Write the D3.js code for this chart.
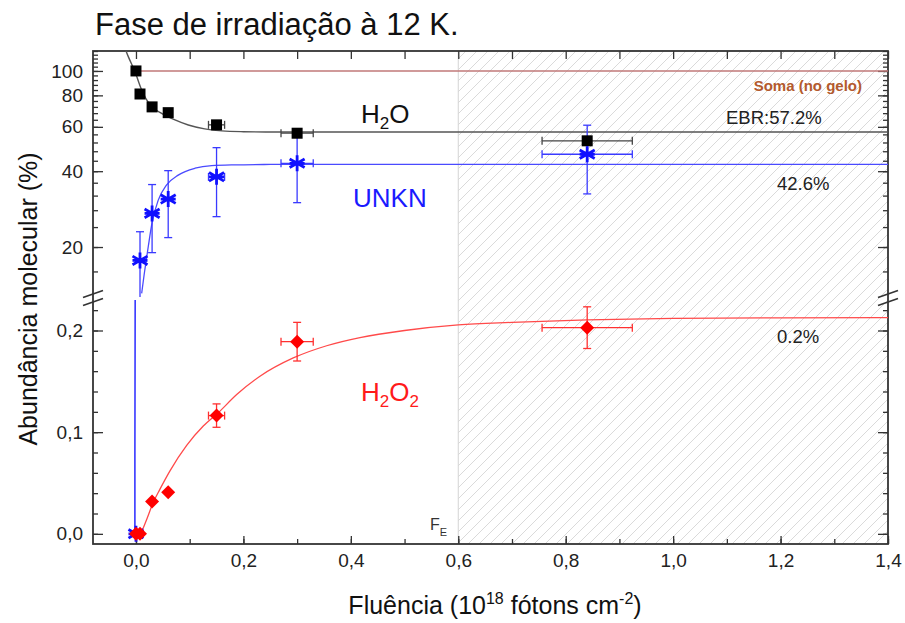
<!DOCTYPE html>
<html>
<head>
<meta charset="utf-8">
<script src="https://cdn.jsdelivr.net/npm/d3@7"></script>
<style>
body { margin: 0; background: #fff; }
svg text { font-family: "Liberation Sans", Arial, sans-serif; }
</style>
</head>
<body>
<svg id="chart" width="905" height="623"></svg>
<script>
// measured points (fluence in 1e18 photons/cm2, abundances in %)
var fluence = [0, 0.0075, 0.03, 0.06, 0.15, 0.30, 0.84]
var fluenceErr = [0, 0, 0, 0, 0.015, 0.03, 0.084]
var h2oVals = [100, 81, 72, 68.3, 61.1, 56.6, 52.8]
var unknVals = [0, 17.7, 27.2, 31.0, 38.0, 43.0, 46.7]
var unknErr = [0, 5.3, 8.2, 9.2, 11.6, 13.0, 14.2]
var h2o2Vals = [0, 0, 0.0318, 0.041, 0.1163, 0.189, 0.2028]
var h2o2Err = [0, 0, 0, 0, 0.0115, 0.019, 0.0205]

// fit curves
var h2oFitX = [-0.0186, -0.0143, -0.002, 0.0106, 0.026, 0.0478, 0.0726, 0.0974, 0.128, 0.16, 0.2, 0.25, 0.3, 1.4]
var h2oFitY = [120, 114, 99.4, 84, 73.3, 67.9, 63.9, 61.0, 58.9, 57.8, 57.4, 57.25, 57.2, 57.2]
var unknFitX = [0.0106, 0.0155, 0.0229, 0.0303, 0.0415, 0.0571, 0.0787, 0.11, 0.141, 0.184, 0.25, 0.3, 1.4]
var unknFitY = [13.1, 15.7, 20.1, 25.2, 30.7, 35.3, 38.6, 41.1, 42.1, 42.4, 42.55, 42.6, 42.6]
var unknLowX = [-0.002, -0.002, -0.0015]
var unknLowY = [0, 0.08, 0.23]
var h2o2FitX = [0.0093, 0.0199, 0.0322, 0.0447, 0.0633, 0.0944, 0.1253, 0.153, 0.1875, 0.2308, 0.2928, 0.355, 0.417, 0.5, 0.6, 0.7, 0.84, 1.0, 1.2, 1.4]
var h2o2FitY = [0, 0.014, 0.031, 0.044, 0.062, 0.087, 0.106, 0.119, 0.137, 0.155, 0.173, 0.185, 0.193, 0.200, 0.2055, 0.208, 0.2105, 0.212, 0.2125, 0.2127]
var somaX = [0, 1.4]
var somaY = [100, 100]

// ticks
var xTicks = [0, 0.2, 0.4, 0.6, 0.8, 1.0, 1.2, 1.4]
var topTicks = [20, 40, 60, 80, 100]
var botTicks = [0, 0.1, 0.2]
var fluenceEnd = 0.6

// note: "top" is taken by window.top, so the frame uses its own names
var frameL = 93, frameR = 888, frameT = 51, frameB = 544
var topPanelBottom = 295, botPanelTop = 300

var svg = d3.select('#chart')
var x = d3.scaleLinear().domain([-0.08, 1.4]).range([frameL, frameR])
var yTop = d3.scaleLog().domain([12.9, 120]).range([topPanelBottom, frameT])
var yBot = d3.scaleLinear().domain([-0.01, 0.23]).range([frameB, botPanelTop])

function yPos(v) {
    return v > 1 ? yTop(v) : yBot(v)
}
function commaFmt(d) {
    return d3.format('.1f')(d).replace('.', ',')
}

function drawBackground() {
    let defs = svg.append('defs')
    let pat = defs.append('pattern')
        .attr('id', 'hatch')
        .attr('patternUnits', 'userSpaceOnUse')
        .attr('width', 11).attr('height', 11)
    pat.append('path')
        .attr('d', 'M-1,1 l2,-2 M0,11 l11,-11 M10,12 l2,-2')
        .attr('stroke', '#dadada').attr('stroke-width', 1)
    defs.append('clipPath').attr('id', 'clip-top')
        .append('rect').attr('x', frameL).attr('y', frameT)
        .attr('width', frameR - frameL).attr('height', topPanelBottom + 2 - frameT)
    defs.append('clipPath').attr('id', 'clip-bot')
        .append('rect').attr('x', frameL).attr('y', botPanelTop - 3)
        .attr('width', frameR - frameL).attr('height', frameB - botPanelTop + 3)

    svg.append('rect')
        .attr('x', x(fluenceEnd)).attr('y', frameT)
        .attr('width', x(1.4) - x(fluenceEnd)).attr('height', frameB - frameT)
        .attr('fill', 'url(#hatch)')
    svg.append('line')
        .attr('x1', x(fluenceEnd)).attr('x2', x(fluenceEnd))
        .attr('y1', frameT).attr('y2', frameB)
        .attr('stroke', '#d4d4d4').attr('stroke-width', 1)
}

function drawAxes() {
    let tickColor = '#333'
    let topMinor = d3.range(16, 121, 4)
    let botMinor = d3.range(0, 0.221, 0.02)
    // bottom
    svg.append('g').attr('transform', 'translate(0,' + frameB + ')')
        .call(d3.axisBottom(x).tickValues(d3.range(0, 1.41, 0.1)).tickSize(-5).tickFormat(''))
    svg.append('g').attr('transform', 'translate(0,' + frameB + ')')
        .call(d3.axisBottom(x).tickValues(xTicks).tickSize(-8).tickPadding(10).tickFormat(commaFmt))
    // top
    svg.append('g').attr('transform', 'translate(0,' + frameT + ')')
        .call(d3.axisTop(x).tickValues(d3.range(0, 1.41, 0.1)).tickSize(-8).tickFormat(''))
    // left, log panel
    svg.append('g').attr('transform', 'translate(' + frameL + ',0)')
        .call(d3.axisLeft(yTop).tickValues(topTicks).tickSize(-10).tickPadding(10).tickFormat(d3.format('d')))
    svg.append('g').attr('transform', 'translate(' + frameL + ',0)')
        .call(d3.axisLeft(yTop).tickValues(topMinor).tickSize(-5).tickFormat(''))
    // left, linear panel
    svg.append('g').attr('transform', 'translate(' + frameL + ',0)')
        .call(d3.axisLeft(yBot).tickValues(botTicks).tickSize(-10).tickPadding(10).tickFormat(commaFmt))
    svg.append('g').attr('transform', 'translate(' + frameL + ',0)')
        .call(d3.axisLeft(yBot).tickValues(botMinor).tickSize(-5).tickFormat(''))
    // right side mirrors
    svg.append('g').attr('transform', 'translate(' + frameR + ',0)')
        .call(d3.axisRight(yTop).tickValues(topTicks).tickSize(-10).tickFormat(''))
    svg.append('g').attr('transform', 'translate(' + frameR + ',0)')
        .call(d3.axisRight(yTop).tickValues(topMinor).tickSize(-5).tickFormat(''))
    svg.append('g').attr('transform', 'translate(' + frameR + ',0)')
        .call(d3.axisRight(yBot).tickValues(botTicks).tickSize(-10).tickFormat(''))
    svg.append('g').attr('transform', 'translate(' + frameR + ',0)')
        .call(d3.axisRight(yBot).tickValues(botMinor).tickSize(-5).tickFormat(''))

    svg.selectAll('.domain').remove()
    svg.selectAll('.tick line').attr('stroke', tickColor).attr('stroke-width', 1.3)
    svg.selectAll('.tick text')
        .attr('font-size', 19)
        .attr('fill', '#222')
        .attr('font-family', '"Liberation Sans", Arial, sans-serif')

    svg.append('rect')
        .attr('x', frameL).attr('y', frameT)
        .attr('width', frameR - frameL).attr('height', frameB - frameT)
        .attr('fill', 'none').attr('stroke', '#333').attr('stroke-width', 1.8)

    // axis break marks
    ;[frameL, frameR].forEach(function(ax) {
        [294, 302].forEach(function(by) {
            svg.append('line')
                .attr('x1', ax - 10).attr('y1', by + 3.5)
                .attr('x2', ax + 10).attr('y2', by - 3.5)
                .attr('stroke', '#333').attr('stroke-width', 1.6)
        })
    })
}

function drawCurve(xs, ys, yScale, clip, color, width) {
    let pts = xs.map(function(d, i) { return [x(d), yScale(ys[i])] })
    svg.append('path')
        .attr('d', d3.line().curve(d3.curveMonotoneX)(pts))
        .attr('clip-path', 'url(#' + clip + ')')
        .attr('fill', 'none')
        .attr('stroke', color)
        .attr('stroke-width', width)
}

function drawErrors(vals, yErr, color) {
    let g = svg.append('g').attr('stroke', color).attr('stroke-width', 1.3)
    vals.forEach(function(v, i) {
        let cx = x(fluence[i]), cy = yPos(v)
        let clip = v > 1 ? 'clip-top' : 'clip-bot'
        if (fluenceErr[i] > 0) {
            let x0 = x(fluence[i] - fluenceErr[i]), x1 = x(fluence[i] + fluenceErr[i])
            g.append('line').attr('x1', x0).attr('x2', x1).attr('y1', cy).attr('y2', cy)
            g.append('line').attr('x1', x0).attr('x2', x0).attr('y1', cy - 4).attr('y2', cy + 4)
            g.append('line').attr('x1', x1).attr('x2', x1).attr('y1', cy - 4).attr('y2', cy + 4)
        }
        if (yErr && yErr[i] > 0) {
            let y0 = yPos(v - yErr[i]), y1 = yPos(v + yErr[i])
            if (v > 1 && v - yErr[i] < 12.9) y0 = topPanelBottom + 8
            let eg = g.append('g').attr('clip-path', 'url(#' + clip + ')')
            eg.append('line').attr('x1', cx).attr('x2', cx).attr('y1', y0).attr('y2', y1)
            eg.append('line').attr('x1', cx - 4).attr('x2', cx + 4).attr('y1', y0).attr('y2', y0)
            eg.append('line').attr('x1', cx - 4).attr('x2', cx + 4).attr('y1', y1).attr('y2', y1)
        }
    })
}

function drawMarkers() {
    // H2O squares
    svg.append('g').selectAll('rect')
        .data(h2oVals).enter().append('rect')
        .attr('x', function(d, i) { return x(fluence[i]) - 5.5 })
        .attr('y', function(d) { return yPos(d) - 5.5 })
        .attr('width', 11).attr('height', 11)
        .attr('fill', '#000')
    // UNKN asterisks
    let star = 'M0,-8L0,8M-7.5,-4.3L7.5,4.3M-7.5,4.3L7.5,-4.3M-7.5,0L7.5,0'
    svg.append('g').selectAll('path')
        .data(unknVals).enter().append('path')
        .attr('transform', function(d, i) { return 'translate(' + x(fluence[i]) + ',' + yPos(d) + ')' })
        .attr('d', star)
        .attr('stroke', '#1010ff').attr('stroke-width', 2.8)
    // H2O2 diamonds
    svg.append('g').selectAll('path')
        .data(h2o2Vals).enter().append('path')
        .attr('transform', function(d, i) { return 'translate(' + x(fluence[i]) + ',' + yPos(d) + ')' })
        .attr('d', 'M0,-7L7,0L0,7L-7,0Z')
        .attr('fill', '#ff0000')
}

function drawLabels() {
    svg.append('text').attr('x', 95).attr('y', 35)
        .attr('font-size', 31).attr('fill', '#111')
        .text('Fase de irradiação à 12 K.')

    svg.append('text')
        .attr('transform', 'translate(37,299) rotate(-90)')
        .attr('text-anchor', 'middle')
        .attr('font-size', 25).attr('fill', '#111')
        .text('Abundância molecular (%)')

    let xl = svg.append('text').attr('x', 495).attr('y', 614)
        .attr('text-anchor', 'middle')
        .attr('font-size', 25).attr('fill', '#111')
    xl.append('tspan').text('Fluência (10')
    xl.append('tspan').attr('font-size', 16).attr('dy', -10).text('18')
    xl.append('tspan').attr('dy', 10).text(' fótons cm')
    xl.append('tspan').attr('font-size', 16).attr('dy', -10).text('-2')
    xl.append('tspan').attr('dy', 10).text(')')

    let h2o = svg.append('text').attr('x', 361).attr('y', 123).attr('font-size', 26).attr('fill', '#111')
    h2o.append('tspan').text('H')
    h2o.append('tspan').attr('font-size', 17).attr('dy', 6).text('2')
    h2o.append('tspan').attr('dy', -6).text('O')

    svg.append('text').attr('x', 353).attr('y', 207).attr('font-size', 26).attr('fill', '#1a1aff')
        .text('UNKN')

    let h2o2 = svg.append('text').attr('x', 361).attr('y', 401).attr('font-size', 26).attr('fill', '#ff1a1a')
    h2o2.append('tspan').text('H')
    h2o2.append('tspan').attr('font-size', 17).attr('dy', 6).text('2')
    h2o2.append('tspan').attr('dy', -6).text('O')
    h2o2.append('tspan').attr('font-size', 17).attr('dy', 6).text('2')

    svg.append('text').attr('x', 862).attr('y', 91).attr('text-anchor', 'end')
        .attr('font-size', 15).attr('font-weight', 'bold').attr('fill', '#b35a2d')
        .text('Soma (no gelo)')
    svg.append('text').attr('x', 726).attr('y', 124).attr('font-size', 18.5).attr('fill', '#222')
        .text('EBR:57.2%')
    svg.append('text').attr('x', 777).attr('y', 190).attr('font-size', 18.5).attr('fill', '#222')
        .text('42.6%')
    svg.append('text').attr('x', 777).attr('y', 343).attr('font-size', 18.5).attr('fill', '#222')
        .text('0.2%')

    let fe = svg.append('text').attr('x', 430).attr('y', 530).attr('font-size', 16).attr('fill', '#333')
    fe.append('tspan').text('F')
    fe.append('tspan').attr('font-size', 11).attr('dy', 6).text('E')
}

drawBackground()
drawAxes()
drawCurve(somaX, somaY, yTop, 'clip-top', '#c07878', 1.6)
drawCurve(h2oFitX, h2oFitY, yTop, 'clip-top', '#555', 1.4)
drawCurve(unknFitX, unknFitY, yTop, 'clip-top', '#4a4aff', 1.3)
drawCurve(unknLowX, unknLowY, yBot, 'clip-bot', '#2a2aff', 1.5)
drawCurve(h2o2FitX, h2o2FitY, yBot, 'clip-bot', '#ff4a4a', 1.3)
drawErrors(h2oVals, null, '#444')
drawErrors(unknVals, unknErr, '#3a3aff')
drawErrors(h2o2Vals, h2o2Err, '#ff3030')
drawMarkers()
drawLabels()
</script>
</body>
</html>
